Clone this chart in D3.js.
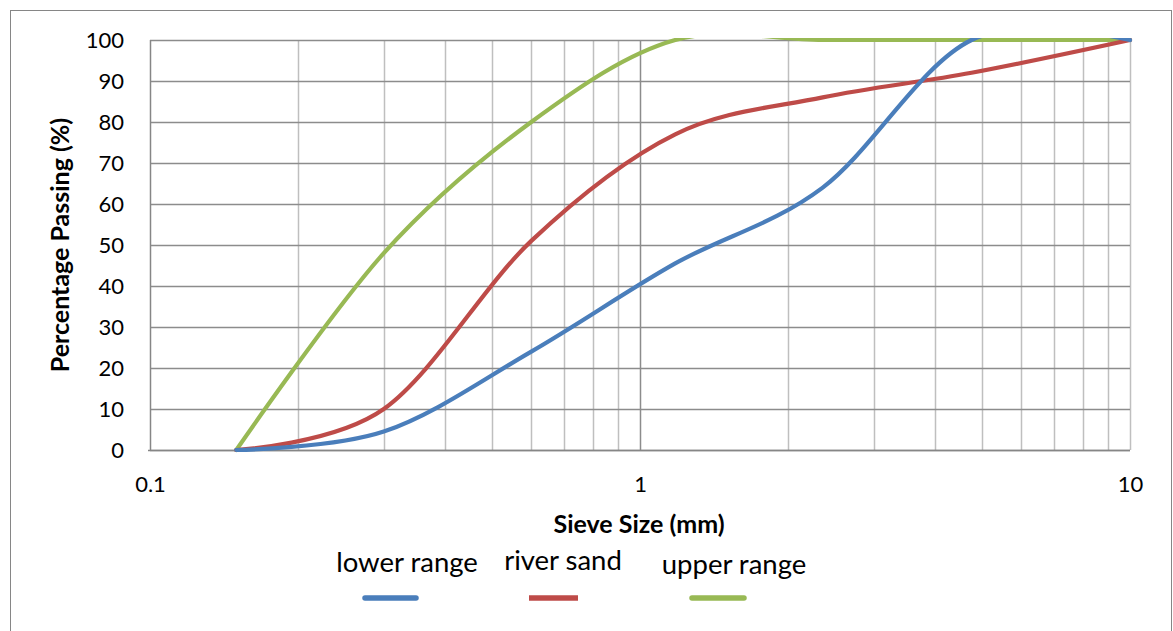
<!DOCTYPE html>
<html>
<head>
<meta charset="utf-8">
<script src="https://cdn.jsdelivr.net/npm/d3@7"></script>
<style>
  html, body { margin: 0; padding: 0; background: #fff; }
  svg { display: block; }
  text { font-family: Lato, "Open Sans", sans-serif; fill: #000; }
</style>
</head>
<body>
<svg id="chart" width="1173" height="631"></svg>
<script>
// Sieve analysis: percentage passing for each sieve size (mm)
const sieveSizes = [0.15, 0.3, 0.6, 1.18, 2.36, 4.75, 10];
const lowerRange = [0, 4.5, 24, 45.5, 64, 100, 100];
const riverSand  = [0, 10, 51, 77, 86, 92, 100];
const upperRange = [0, 48, 80, 100, 100, 100, 100];

const seriesNames  = ["lower range", "river sand", "upper range"];
const seriesColors = ["#4A7EBB", "#BE4B48", "#98B954"];
const xTickValues = [0.1, 1, 10];
const yTickValues = [0, 10, 20, 30, 40, 50, 60, 70, 80, 90, 100];

const svg = d3.select("#chart");
const plot = { left: 150, right: 1130, top: 40, bottom: 450 };

// frame around the whole chart
svg.append("rect")
  .attr("x", 10.5).attr("y", 10.5)
  .attr("width", 1161).attr("height", 660)
  .attr("fill", "#fff").attr("stroke", "#868686").attr("stroke-width", 1);

const x = d3.scaleLog().domain([0.1, 10]).range([plot.left, plot.right]);
const y = d3.scaleLinear().domain([0, 100]).range([plot.bottom, plot.top]);

// vertical gridlines: minor steps inside each decade, decade lines darker
const minorX = [];
[0.1, 1].forEach(d => { for (let k = 2; k <= 9; k++) minorX.push(d * k); });
const grid = svg.append("g");
grid.selectAll("line.vminor").data(minorX.concat([10])).join("line")
  .attr("x1", d => Math.round(x(d)) + 0.5).attr("x2", d => Math.round(x(d)) + 0.5)
  .attr("y1", plot.top).attr("y2", plot.bottom)
  .attr("stroke", "#BFBFBF").attr("stroke-width", 1.5);
grid.selectAll("line.vmajor").data([1]).join("line")
  .attr("x1", d => Math.round(x(d)) + 0.5).attr("x2", d => Math.round(x(d)) + 0.5)
  .attr("y1", plot.top).attr("y2", plot.bottom)
  .attr("stroke", "#8C8C8C").attr("stroke-width", 1.5);
// horizontal gridlines
grid.selectAll("line.h").data(yTickValues).join("line")
  .attr("x1", plot.left).attr("x2", plot.right)
  .attr("y1", d => Math.round(y(d)) + 0.5).attr("y2", d => Math.round(y(d)) + 0.5)
  .attr("stroke", "#8C8C8C").attr("stroke-width", 1.5);

// axes (labels only, lines drawn as plot edges)
const yAxis = svg.append("g")
  .attr("transform", `translate(${plot.left},0)`)
  .call(d3.axisLeft(y).tickValues(yTickValues).tickSize(0).tickPadding(26).tickFormat(d3.format("d")));
const xAxis = svg.append("g")
  .attr("transform", `translate(0,${plot.bottom})`)
  .call(d3.axisBottom(x).tickValues(xTickValues).tickSize(0).tickPadding(26)
    .tickFormat(d => d < 1 ? d3.format(".1f")(d) : d3.format("d")(d)));
[yAxis, xAxis].forEach(a => {
  a.select(".domain").remove();
  a.selectAll("text").style("font-family", "Lato, sans-serif").style("font-size", "22px").attr("fill", "#000");
});
yAxis.selectAll("text").attr("dy", "0.36em");
xAxis.selectAll("text").attr("dy", "0.72em");

svg.append("line")
  .attr("x1", plot.left + 0.5).attr("x2", plot.left + 0.5)
  .attr("y1", plot.top).attr("y2", plot.bottom + 1)
  .attr("stroke", "#868686").attr("stroke-width", 1.5);
svg.append("line")
  .attr("x1", plot.left - 2).attr("x2", plot.right)
  .attr("y1", plot.bottom + 0.5).attr("y2", plot.bottom + 0.5)
  .attr("stroke", "#868686").attr("stroke-width", 1.5);

// series curves, clipped to the plot area
svg.append("clipPath").attr("id", "plotClip")
  .append("rect")
  .attr("x", plot.left - 5).attr("y", plot.top - 2)
  .attr("width", plot.right - plot.left + 10).attr("height", plot.bottom - plot.top + 7);

const line = d3.line()
  .x(d => x(d[0])).y(d => y(d[1]))
  .curve(d3.curveCardinal.tension(0));

const seriesValues = [lowerRange, riverSand, upperRange];
const lines = svg.append("g").attr("clip-path", "url(#plotClip)");
// draw in reverse so lower range sits on top
[2, 1, 0].forEach(i => {
  lines.append("path")
    .datum(sieveSizes.map((s, j) => [s, seriesValues[i][j]]))
    .attr("d", line)
    .attr("fill", "none")
    .attr("stroke", seriesColors[i])
    .attr("stroke-width", 4.2)
    .attr("stroke-linejoin", "round")
    .attr("stroke-linecap", "round");
});

// axis titles
svg.append("text")
  .attr("x", 639).attr("y", 533)
  .attr("text-anchor", "middle")
  .style("font-weight", "bold").style("font-size", "25px")
  .text("Sieve Size (mm)");
svg.append("text")
  .attr("transform", "translate(69,245) rotate(-90)")
  .attr("text-anchor", "middle")
  .style("font-weight", "bold").style("font-size", "25px")
  .text("Percentage Passing (%)");

// legend
const legendItems = [
  { tx: 407, ty: 572, x1: 365, x2: 416, cap: "round" },
  { tx: 563, ty: 570, x1: 529, x2: 578, cap: "butt" },
  { tx: 734, ty: 574, x1: 692, x2: 744, cap: "round" }
];
const legend = svg.append("g");
legendItems.forEach((it, i) => {
  legend.append("text")
    .attr("x", it.tx).attr("y", it.ty)
    .attr("text-anchor", "middle")
    .style("font-size", "27.5px")
    .text(seriesNames[i]);
  legend.append("line")
    .attr("x1", it.x1).attr("x2", it.x2)
    .attr("y1", 598).attr("y2", 598)
    .attr("stroke", seriesColors[i])
    .attr("stroke-width", 5.5)
    .attr("stroke-linecap", it.cap);
});
</script>
</body>
</html>
